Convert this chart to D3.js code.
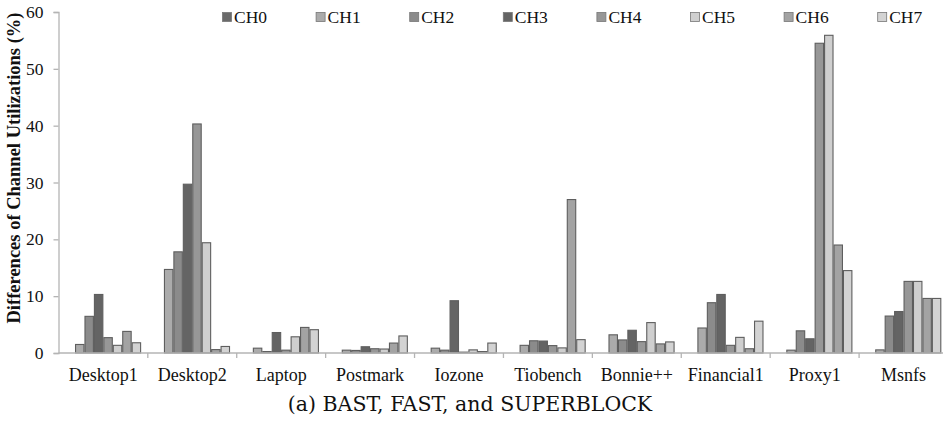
<!DOCTYPE html>
<html>
<head>
<meta charset="utf-8">
<script src="https://cdn.jsdelivr.net/npm/d3@7"></script>
<style>
  html, body { margin: 0; padding: 0; background: #fff; }
  svg { display: block; }
</style>
</head>
<body>
<svg id="chart" width="943" height="421"></svg>
<script>
// Workloads along the x axis
const categories = ["Desktop1", "Desktop2", "Laptop", "Postmark", "Iozone",
                    "Tiobench", "Bonnie++", "Financial1", "Proxy1", "Msnfs"];

// Channel series (difference of channel utilization, %)
const channels = ["CH0", "CH1", "CH2", "CH3", "CH4", "CH5", "CH6", "CH7"];
const ch0 = [0, 0, 0, 0, 0, 0, 0, 0, 0, 0];
const ch1 = [1.5, 14.7, 0.85, 0.5, 0.85, 1.35, 3.2, 4.4, 0.5, 0.55];
const ch2 = [6.45, 17.8, 0.25, 0.45, 0.5, 2.15, 2.3, 8.85, 3.9, 6.5];
const ch3 = [10.3, 29.7, 3.6, 1.1, 9.2, 2.1, 4.0, 10.3, 2.5, 7.3];
const ch4 = [2.7, 40.3, 0.5, 0.75, 0.15, 1.3, 2.0, 1.35, 54.5, 12.6];
const ch5 = [1.35, 19.4, 2.85, 0.7, 0.55, 0.9, 5.35, 2.75, 55.9, 12.6];
const ch6 = [3.8, 0.6, 4.5, 1.75, 0.25, 27.0, 1.6, 0.75, 19.0, 9.6];
const ch7 = [1.8, 1.15, 4.1, 3.0, 1.75, 2.35, 1.95, 5.6, 14.5, 9.6];
const series = [ch0, ch1, ch2, ch3, ch4, ch5, ch6, ch7];

const yTicks = [0, 10, 20, 30, 40, 50, 60];
const yLabel = "Differences of Channel Utilizations (%)";
const caption = "(a) BAST, FAST, and SUPERBLOCK";

// Fill shades per channel
const fills = ["#6a6a6a", "#ababab", "#8b8b8b", "#646464", "#979797", "#cfcfcf", "#a3a3a3", "#d3d3d3"];

const svg = d3.select("#chart");
const serif = "'Liberation Serif', 'Times New Roman', serif";

const x0 = d3.scaleBand().domain(categories).range([58.9, 948]).padding(0);
const x1 = d3.scaleBand().domain(channels).range([6.7, x0.bandwidth() - 6.7]).padding(0);
const y = d3.scaleLinear().domain([0, 60]).range([353, 12]);

// Bars
const groups = svg.append("g").selectAll("g")
  .data(categories)
  .join("g")
  .attr("transform", d => `translate(${x0(d)},0)`);

groups.selectAll("rect")
  .data((c, i) => channels.map((ch, k) => ({ ch, k, v: series[k][i] })).filter(d => d.v > 0))
  .join("rect")
  .attr("x", d => x1(d.ch) + 0.5)
  .attr("y", d => y(d.v))
  .attr("width", x1.bandwidth() - 1)
  .attr("height", d => y(0) - y(d.v))
  .attr("fill", d => fills[d.k])
  .attr("stroke", "#5e5e5e")
  .attr("stroke-width", 1.1);

// Y axis
const yAxis = svg.append("g")
  .attr("transform", "translate(58.5,0)")
  .call(d3.axisLeft(y).tickValues(yTicks).tickSize(5).tickPadding(10));
yAxis.select(".domain").attr("stroke", "#b4b4b4").attr("stroke-width", 1.3);
yAxis.selectAll(".tick line").attr("stroke", "#b4b4b4").attr("stroke-width", 1.3);
yAxis.selectAll(".tick text")
  .attr("font-family", serif).attr("font-size", 17.5).attr("fill", "#111");

// X axis with boundary ticks between categories
const xg = svg.append("g").attr("transform", `translate(0,${y(0)})`);
xg.append("line")
  .attr("x1", 58.5).attr("x2", 948)
  .attr("stroke", "#b4b4b4").attr("stroke-width", 1.3);
xg.selectAll("line.tk")
  .data(categories.slice(1))
  .join("line")
  .attr("class", "tk")
  .attr("x1", d => x0(d)).attr("x2", d => x0(d))
  .attr("y1", 0).attr("y2", 5)
  .attr("stroke", "#b4b4b4").attr("stroke-width", 1.3);
xg.selectAll("text")
  .data(categories)
  .join("text")
  .attr("x", d => x0(d) + x0.bandwidth() / 2)
  .attr("y", 28)
  .attr("text-anchor", "middle")
  .attr("font-family", serif).attr("font-size", 18).attr("fill", "#111")
  .text(d => d);

// Legend across the top
const legend = svg.append("g").selectAll("g")
  .data(channels)
  .join("g")
  .attr("transform", (d, i) => `translate(${222 + i * 93.6},12)`);
legend.append("rect")
  .attr("x", 0.5).attr("y", 0.5).attr("width", 9).attr("height", 9)
  .attr("fill", (d, i) => fills[i])
  .attr("stroke", "#777").attr("stroke-width", 0.8);
legend.append("text")
  .attr("x", 12).attr("y", 11)
  .attr("font-family", serif).attr("font-size", 17.5).attr("fill", "#111")
  .text(d => d);

// Y axis title
svg.append("text")
  .attr("transform", "translate(20,168) rotate(-90)")
  .attr("text-anchor", "middle")
  .attr("font-family", serif).attr("font-weight", "bold")
  .attr("font-size", 18.5).attr("fill", "#111")
  .text(yLabel);

// Caption
svg.append("text")
  .attr("x", 470).attr("y", 411)
  .attr("text-anchor", "middle")
  .attr("font-family", "'DejaVu Serif', serif")
  .attr("font-size", 20.5).attr("fill", "#111")
  .text(caption);
</script>
</body>
</html>
